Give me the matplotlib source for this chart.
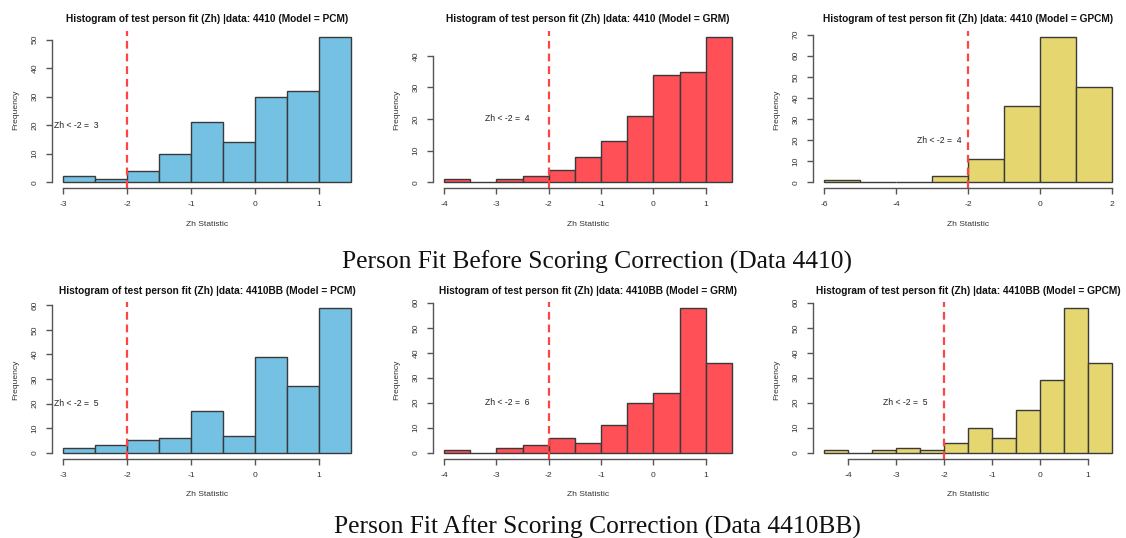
import matplotlib
matplotlib.use("Agg")
import matplotlib.pyplot as plt

# ---------------- data ----------------
titles = [
    "Histogram of test person fit (Zh) |data: 4410 (Model = PCM)",
    "Histogram of test person fit (Zh) |data: 4410 (Model = GRM)",
    "Histogram of test person fit (Zh) |data: 4410 (Model = GPCM)",
    "Histogram of test person fit (Zh) |data: 4410BB (Model = PCM)",
    "Histogram of test person fit (Zh) |data: 4410BB (Model = GRM)",
    "Histogram of test person fit (Zh) |data: 4410BB (Model = GPCM)",
]

breaks_pcm_4410 = [-3, -2.5, -2, -1.5, -1, -0.5, 0, 0.5, 1, 1.5]
counts_pcm_4410 = [2, 1, 4, 10, 21, 14, 30, 32, 51]

breaks_grm_4410 = [-4, -3.5, -3, -2.5, -2, -1.5, -1, -0.5, 0, 0.5, 1, 1.5]
counts_grm_4410 = [1, 0, 1, 2, 4, 8, 13, 21, 34, 35, 46]

breaks_gpcm_4410 = [-6, -5, -4, -3, -2, -1, 0, 1, 2]
counts_gpcm_4410 = [1, 0, 0, 3, 11, 36, 69, 45]

breaks_pcm_4410bb = [-3, -2.5, -2, -1.5, -1, -0.5, 0, 0.5, 1, 1.5]
counts_pcm_4410bb = [2, 3, 5, 6, 17, 7, 39, 27, 59]

breaks_grm_4410bb = [-4, -3.5, -3, -2.5, -2, -1.5, -1, -0.5, 0, 0.5, 1, 1.5]
counts_grm_4410bb = [1, 0, 2, 3, 6, 4, 11, 20, 24, 58, 36]

breaks_gpcm_4410bb = [-4.5, -4, -3.5, -3, -2.5, -2, -1.5, -1, -0.5, 0, 0.5, 1, 1.5]
counts_gpcm_4410bb = [1, 0, 1, 2, 1, 4, 10, 6, 17, 29, 58, 36]

xticks_list = [
    [-3, -2, -1, 0, 1],
    [-4, -3, -2, -1, 0, 1],
    [-6, -4, -2, 0, 2],
    [-3, -2, -1, 0, 1],
    [-4, -3, -2, -1, 0, 1],
    [-4, -3, -2, -1, 0, 1],
]
yticks_list = [
    [0, 10, 20, 30, 40, 50],
    [0, 10, 20, 30, 40],
    [0, 10, 20, 30, 40, 50, 60, 70],
    [0, 10, 20, 30, 40, 50, 60],
    [0, 10, 20, 30, 40, 50, 60],
    [0, 10, 20, 30, 40, 50, 60],
]
misfit_counts = [3, 4, 4, 5, 6, 5]
cutoff = -2
captions = [
    "Person Fit Before Scoring Correction (Data 4410)",
    "Person Fit After Scoring Correction (Data 4410BB)",
]

breaks_all = [breaks_pcm_4410, breaks_grm_4410, breaks_gpcm_4410,
              breaks_pcm_4410bb, breaks_grm_4410bb, breaks_gpcm_4410bb]
counts_all = [counts_pcm_4410, counts_grm_4410, counts_gpcm_4410,
              counts_pcm_4410bb, counts_grm_4410bb, counts_gpcm_4410bb]

# ---------------- style ----------------
colors = ["#75C1E4", "#FF4F57", "#E6D66F"] * 2
SANS = ["Liberation Sans", "DejaVu Sans"]
SERIF = ["Liberation Serif", "DejaVu Serif"]
AXCOL = "#555555"
TXTCOL = "#333333"

W, H = 1126, 538
fig = plt.figure(figsize=(W / 100, H / 100), dpi=100)

col_left = [51.5, 432.5, 812.5]
ax_w = 311
row_top = [31, 302]
ax_h = [157, 156.5]
title_y = [19, 291]
xlabel_y = [224, 494]

for i in range(6):
    r, c = divmod(i, 3)
    left = col_left[c]
    top = row_top[r]
    h = ax_h[r]
    ax = fig.add_axes([left / W, 1 - (top + h) / H, ax_w / W, h / H])
    br = breaks_all[i]
    ct = counts_all[i]
    widths = [br[k + 1] - br[k] for k in range(len(ct))]
    ax.bar(br[:-1], ct, width=widths, align="edge", color=colors[i],
           edgecolor="#3a3a3a", linewidth=1.0)
    rng = br[-1] - br[0]
    ax.set_xlim(br[0] - 0.04 * rng, br[-1] + 0.04 * rng)
    mx = max(ct)
    ax.set_ylim(-0.04 * mx, 1.04 * mx)
    ax.axvline(cutoff, color="#FF4444", linestyle=(0, (3.5, 2.2)), linewidth=1.6)
    ax.text(-2.8, 20, "Zh < -2 =  %d" % misfit_counts[i], ha="center",
            va="center", fontsize=6.2, family=SANS, color="#222222")

    xt = xticks_list[i]
    yt = yticks_list[i]
    ax.set_xticks(xt)
    ax.set_yticks(yt)
    ax.set_xticklabels([str(v) for v in xt])
    ax.set_yticklabels([str(v) for v in yt], rotation=90, va="center")
    for s in ["top", "right"]:
        ax.spines[s].set_visible(False)
    ax.spines["left"].set_bounds(yt[0], yt[-1])
    ax.spines["bottom"].set_bounds(xt[0], xt[-1])
    for s in ["left", "bottom"]:
        ax.spines[s].set_color(AXCOL)
        ax.spines[s].set_linewidth(1.0)
    ax.tick_params(axis="both", length=4.5, width=1.0, color=AXCOL,
                   labelsize=6.1, labelcolor=TXTCOL, pad=5)
    for lab in ax.get_xticklabels() + ax.get_yticklabels():
        lab.set_family(SANS)
    ax.patch.set_alpha(0)

    cx = left + ax_w / 2
    fig.text(cx / W, 1 - title_y[r] / H, titles[i], ha="center", va="center",
             fontsize=7.3, fontweight="bold", family=SANS, color="#111111")
    fig.text(cx / W, 1 - xlabel_y[r] / H, "Zh Statistic", ha="center",
             va="center", fontsize=6.1, family=SANS, color=TXTCOL)
    ylab_x = left - 36
    fig.text(ylab_x / W, 1 - (top + h / 2) / H, "Frequency", ha="center",
             va="center", rotation=90, fontsize=6.1, family=SANS, color=TXTCOL)

fig.text(597 / W, 1 - 262 / H, captions[0], ha="center", va="center",
         fontsize=18.4, family=SERIF, color="#111111")
fig.text(597 / W, 1 - 527 / H, captions[1], ha="center", va="center",
         fontsize=18.4, family=SERIF, color="#111111")

fig.savefig("out.png", dpi=100, facecolor="white")
